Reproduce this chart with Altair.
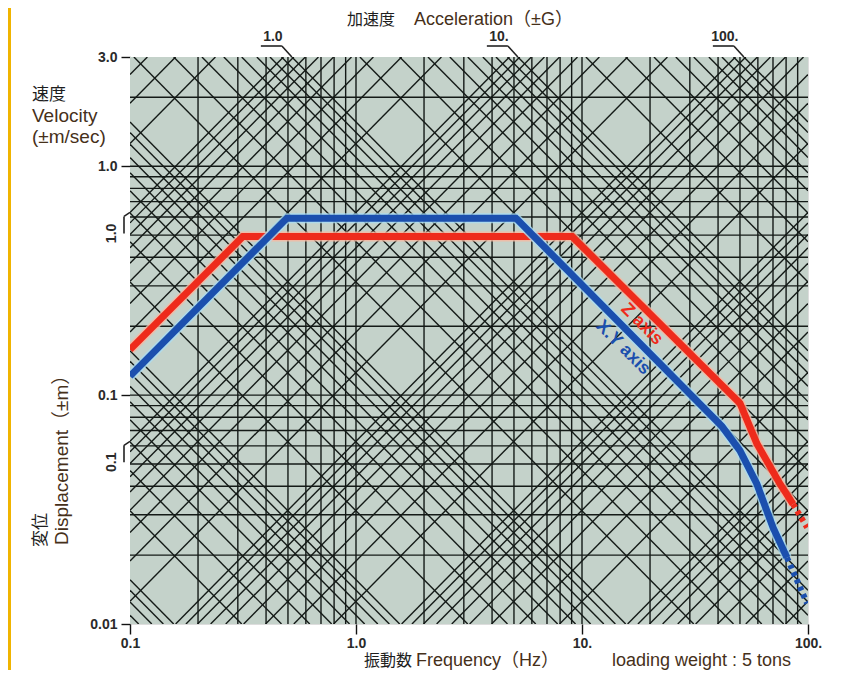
import math
import pandas as pd
import altair as alt

# ---------------- axis ranges / ticks ----------------
F_MIN, F_MAX = 0.1, 100.0      # frequency (Hz)
V_MIN, V_MAX = 0.01, 3.0       # velocity (m/s)
G = 9.80665

x_tick_values = [0.1, 1.0, 10.0, 100.0]
x_tick_labels = ["0.1", "1.0", "10.", "100."]
y_tick_values = [0.01, 0.1, 1.0, 3.0]
y_tick_labels = ["0.01", "0.1", "1.0", "3.0"]

# grid values (log paper: 1..9 per decade)
grid_multipliers = [1, 2, 3, 4, 5, 6, 7, 8, 9]
freq_decades = [-1, 0, 1]
vel_decades = [-2, -1, 0]
disp_decades = [-6, -5, -4, -3, -2, -1, 0, 1]
accel_decades = [-5, -4, -3, -2, -1, 0, 1, 2]

# labelled diagonal scales
accel_label_values = [1.0, 10.0, 100.0]
accel_label_texts = ["1.0", "10.", "100."]
disp_label_values = [1.0, 0.1]
disp_label_texts = ["1.0", "0.1"]

# ---------------- curves ----------------
z_freq = [0.1, 0.316, 9.04, 50.0, 59.4, 75.2, 85.9]
z_vel = [0.158, 0.493, 0.493, 0.0922, 0.0614, 0.0409, 0.0334]
z_dot_freq = [85.9, 99.1]
z_dot_vel = [0.0334, 0.0264]

xy_freq = [0.1, 0.495, 5.1, 41.6, 50.0, 59.4, 70.0, 80.7]
xy_vel = [0.121, 0.593, 0.593, 0.073, 0.0572, 0.0409, 0.0264, 0.0195]
xy_dot_freq = [80.7, 99.1]
xy_dot_vel = [0.0195, 0.0123]

# ---------------- styling ----------------
W, H = 678, 567
PAD_L, PAD_T, PAD_R, PAD_B = 122, 49, 36, 46
BG = "#c4d2ca"
GRID = "#141a17"
RED = "#ee2b1c"
BLUE = "#1b4fae"
BROWN = "#46301a"
LAT = "Liberation Sans, Arial, Noto Sans CJK JP, sans-serif"
CJK = "Noto Sans CJK JP, sans-serif"

u0, u1 = math.log10(F_MIN), math.log10(F_MAX)
w0, w1 = math.log10(V_MIN), math.log10(V_MAX)
PX_X = W / (u1 - u0)
PX_Y = H / (w1 - w0)

# ---------------- grid segments ----------------
segs = []
for k in freq_decades:
    for m in grid_multipliers:
        f = m * 10.0 ** k
        if F_MIN < f < F_MAX:
            segs.append((f, V_MIN, f, V_MAX))
for k in vel_decades:
    for m in grid_multipliers:
        v = m * 10.0 ** k
        if V_MIN < v < V_MAX:
            segs.append((F_MIN, v, F_MAX, v))
for k in disp_decades:
    for m in grid_multipliers:
        d = m * 10.0 ** k
        c = math.log10(2 * math.pi * d)
        ua, ub = max(u0, w0 - c), min(u1, w1 - c)
        if ub - ua > 1e-4:
            segs.append((10 ** ua, 10 ** (ua + c), 10 ** ub, 10 ** (ub + c)))
for k in accel_decades:
    for m in grid_multipliers:
        a = m * 10.0 ** k
        c = math.log10(a * G / (2 * math.pi))
        ua, ub = max(u0, c - w1), min(u1, c - w0)
        if ub - ua > 1e-4:
            segs.append((10 ** ua, 10 ** (c - ua), 10 ** ub, 10 ** (c - ub)))
grid_df = pd.DataFrame(segs, columns=["x", "y", "x2", "y2"])

# ---------------- brackets for diagonal labels ----------------
br, lab, labd = [], [], []
for a, t in zip(accel_label_values, accel_label_texts):
    ft = a * G / (2 * math.pi * V_MAX)
    tip = (ft, V_MAX)
    elb = (ft * 10 ** (-10 / PX_X), V_MAX * 10 ** (11 / PX_Y))
    end = (ft * 10 ** (-31 / PX_X), V_MAX * 10 ** (11 / PX_Y))
    br.append((*tip, *elb))
    br.append((*elb, *end))
    lab.append((ft * 10 ** (-19 / PX_X), V_MAX * 10 ** (13 / PX_Y), t))
for d, t in zip(disp_label_values, disp_label_texts):
    vt = 2 * math.pi * F_MIN * d
    tip = (F_MIN, vt)
    elb = (F_MIN * 10 ** (-6 / PX_X), vt * 10 ** (-4 / PX_Y))
    end = (F_MIN * 10 ** (-6 / PX_X), vt * 10 ** (-21 / PX_Y))
    br.append((*tip, *elb))
    br.append((*elb, *end))
    labd.append((F_MIN * 10 ** (-18 / PX_X), vt * 10 ** (-21 / PX_Y), t))
br_df = pd.DataFrame(br, columns=["x", "y", "x2", "y2"])
lab_top_df = pd.DataFrame(lab, columns=["x", "y", "t"])
lab_left_df = pd.DataFrame(labd, columns=["x", "y", "t"])

# ---------------- scales / axes ----------------
xs = alt.Scale(type="log", domain=[F_MIN, F_MAX], nice=False)
ys = alt.Scale(type="log", domain=[V_MIN, V_MAX], nice=False)


def label_expr(vals, labs):
    parts = " : ".join(
        [f"abs(datum.value - {v}) < {v * 1e-3} ? '{l}'" for v, l in zip(vals, labs)]
    )
    return parts + " : ''"


x_axis = alt.Axis(
    values=x_tick_values, labelExpr=label_expr(x_tick_values, x_tick_labels),
    title=None, grid=False, domain=False, tickSize=10, tickWidth=1.4,
    tickColor="#111", labelFont=LAT, labelFontSize=14, labelColor="#2a2a2a",
    labelFontWeight="bold", labelPadding=2, labelFlush=False, labelOverlap=False,
)
y_axis = alt.Axis(
    values=y_tick_values, labelExpr=label_expr(y_tick_values, y_tick_labels),
    title=None, grid=False, domain=False, tickSize=9, tickWidth=1.4,
    tickColor="#111", labelFont=LAT, labelFontSize=14, labelFontWeight="bold",
    labelColor="#2a2a2a", labelPadding=4, labelFlush=False, labelOverlap=False,
)


def X(f):
    return alt.X(f, type="quantitative", scale=xs, axis=x_axis)


def Y(f):
    return alt.Y(f, type="quantitative", scale=ys, axis=y_axis)


layers = []

# plot background
layers.append(
    alt.Chart(pd.DataFrame({"a": [0]})).mark_rect(color=BG).encode(
        x=alt.value(0), x2=alt.value(W), y=alt.value(0), y2=alt.value(H)
    )
)
# grid
layers.append(
    alt.Chart(grid_df).mark_rule(color=GRID, strokeWidth=1.4, clip=True).encode(
        x=X("x"), y=Y("y"), x2="x2", y2="y2"
    )
)
# brackets
layers.append(
    alt.Chart(br_df).mark_rule(color="#222", strokeWidth=1.6).encode(
        x=X("x"), y=Y("y"), x2="x2", y2="y2"
    )
)
layers.append(
    alt.Chart(lab_top_df).mark_text(
        font=LAT, fontSize=14, color="#2a2a2a", fontWeight="bold", baseline="bottom"
    ).encode(x=X("x"), y=Y("y"), text="t:N")
)
layers.append(
    alt.Chart(lab_left_df).mark_text(
        font=LAT, fontSize=14, color="#2a2a2a", fontWeight="bold", angle=270,
        baseline="middle", align="center",
    ).encode(x=X("x"), y=Y("y"), text="t:N")
)


def curve(fs, vs, color, width, dash=None, halo=None):
    df = pd.DataFrame({"f": fs, "v": vs, "i": list(range(len(fs)))})
    out = []
    kw = {"strokeDash": dash} if dash else {}
    if halo:
        out.append(
            alt.Chart(df).mark_line(color=halo, strokeWidth=width + 3, clip=True,
                                    strokeJoin="miter", opacity=0.8, **kw)
            .encode(x=X("f"), y=Y("v"), order="i:Q")
        )
    out.append(
        alt.Chart(df).mark_line(color=color, strokeWidth=width, clip=True,
                                strokeJoin="miter", **kw)
        .encode(x=X("f"), y=Y("v"), order="i:Q")
    )
    return out


layers += curve(z_freq, z_vel, RED, 7, halo="#f7b8a0")
layers += curve(z_dot_freq, z_dot_vel, RED, 6, dash=[4, 4])
layers += curve(xy_freq, xy_vel, BLUE, 7, halo="#a9dcf3")
layers += curve(xy_dot_freq, xy_dot_vel, BLUE, 6, dash=[4, 4])

# curve labels
curve_lab = pd.DataFrame({"f": [18.4], "v": [0.204], "t": ["Z axis"]})
layers.append(
    alt.Chart(curve_lab).mark_text(font=LAT, fontSize=18, fontWeight="bold",
                                   color=RED, angle=45).encode(
        x=X("f"), y=Y("v"), text="t:N")
)
curve_lab2 = pd.DataFrame({"f": [15.2], "v": [0.161], "t": ["X.Y axis"]})
layers.append(
    alt.Chart(curve_lab2).mark_text(font=LAT, fontSize=18, fontWeight="bold",
                                    color=BLUE, angle=45).encode(
        x=X("f"), y=Y("v"), text="t:N")
)


# fixed texts (page position -> chart position: subtract plot origin 130,57)
def txt(s, px, py, font, size, color, align="left", baseline="middle", angle=0):
    kw = {"angle": angle} if angle else {}
    return alt.Chart(pd.DataFrame({"t": [s]})).mark_text(
        font=font, fontSize=size, color=color, align=align, baseline=baseline, **kw
    ).encode(x=alt.value(px - 130), y=alt.value(py - 57), text="t:N")


layers += [
    txt("加速度", 347, 20, CJK, 16, "#1e1e1e"),
    txt("Acceleration（±G）", 414, 20, LAT, 18, BROWN),
    txt("速度", 32, 95, CJK, 17, "#1e1e1e"),
    txt("Velocity", 32, 116, LAT, 19, BROWN),
    txt("(±m/sec)", 32, 137, LAT, 19, BROWN),
    txt("変位", 41, 547, CJK, 17, "#1e1e1e", angle=270),
    txt("Displacement（±m）", 62, 545, LAT, 19, BROWN, angle=270),
    txt("振動数", 364, 666, CJK, 16, "#1e1e1e", baseline="alphabetic"),
    txt("Frequency（Hz）", 416, 666, LAT, 18, BROWN, baseline="alphabetic"),
    txt("loading weight : 5 tons", 612, 666, LAT, 18, BROWN, baseline="alphabetic"),
]

# yellow page strip at the left edge
strip = alt.Chart(pd.DataFrame({"a": [0]})).mark_rect(color="#f0b400").encode(
    x=alt.value(-PAD_L), x2=alt.value(-PAD_L + 3),
    y=alt.value(-PAD_T), y2=alt.value(H + PAD_B),
)
layers.append(strip)

chart = alt.layer(*layers).properties(
    width=W, height=H, autosize="none",
    padding={"left": PAD_L, "top": PAD_T, "right": PAD_R, "bottom": PAD_B},
).configure_view(stroke="#111", strokeWidth=1.6).configure(background="white")

chart.save("out.html", embed_options={"renderer": "svg", "actions": False})
